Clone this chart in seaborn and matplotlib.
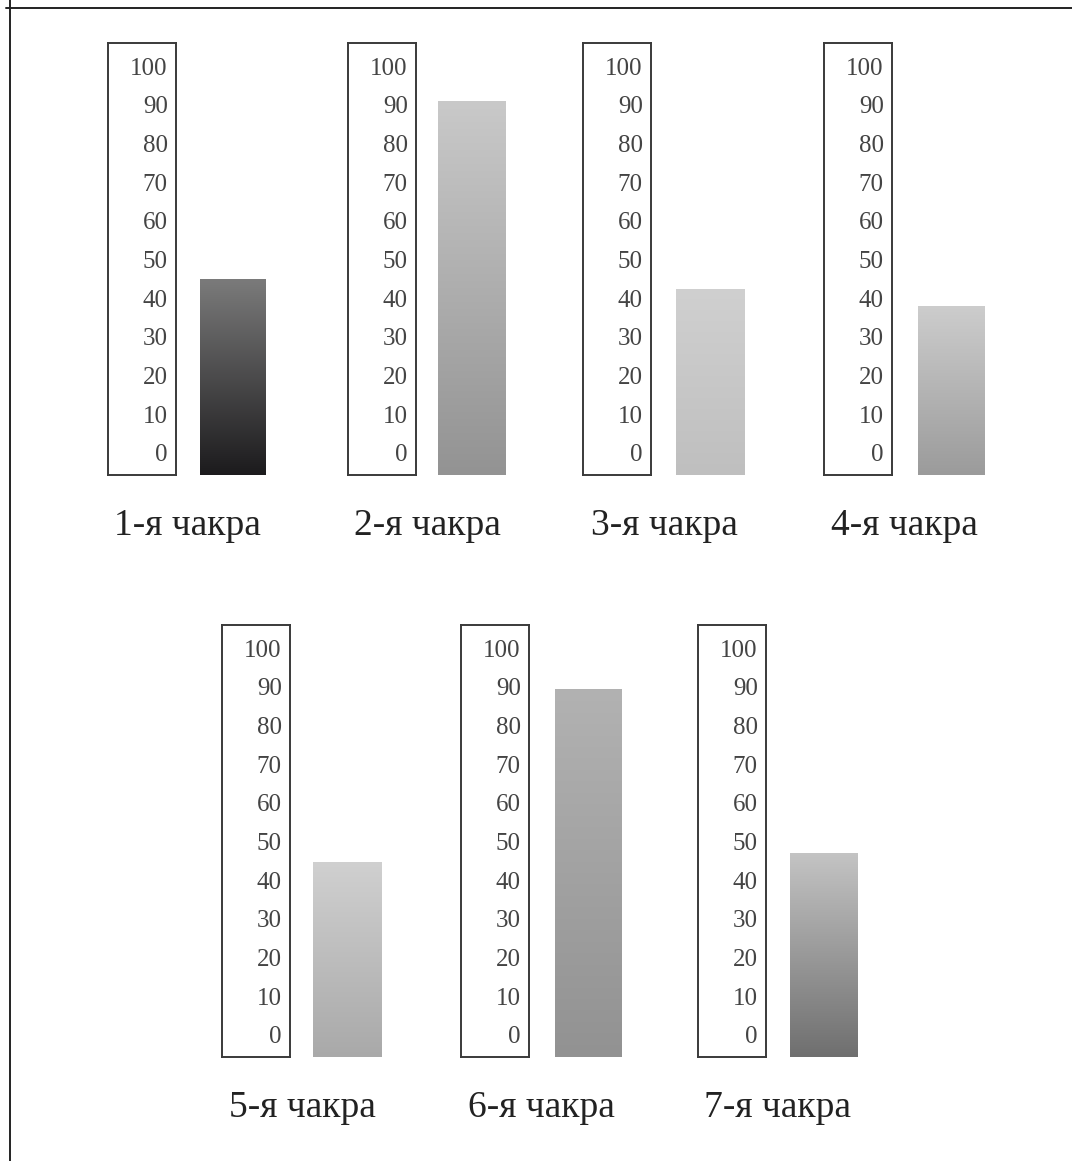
import numpy as np
import pandas as pd
import matplotlib
matplotlib.use("Agg")
import matplotlib.pyplot as plt
import seaborn as sns
from matplotlib.colors import LinearSegmentedColormap
from matplotlib.lines import Line2D

# data
chakras = ["1-я чакра", "2-я чакра", "3-я чакра", "4-я чакра",
           "5-я чакра", "6-я чакра", "7-я чакра"]
levels = [45, 91, 42.5, 38, 44.7, 89.4, 47.1]
scale_ticks = [0, 10, 20, 30, 40, 50, 60, 70, 80, 90, 100]
top_colors = ["#7b7b7b", "#c9c9c9", "#d0d0d0", "#cdcdcd", "#d0d0d0", "#b2b2b2", "#c4c4c4"]
bottom_colors = ["#1c1b1d", "#939393", "#bfbfbf", "#9b9b9b", "#a9a9a9", "#929292", "#6f6f6f"]

sns.set_theme(style="white")
plt.rcParams["font.family"] = ["Liberation Serif", "DejaVu Serif"]

W, H = 1072, 1161
fig = plt.figure(figsize=(W / 100, H / 100), dpi=100)

# pixel layout of each panel: box left, bar left, bar right, box top
layout = [(108, 200, 266, 43), (348, 438, 506, 43), (583, 676, 745, 43), (824, 918, 985, 43),
          (222, 313, 382, 625), (461, 555, 622, 625), (698, 790, 858, 625)]
box_w, box_h = 68, 432
ylim = (-5.7, 106)

for i, (name, val) in enumerate(zip(chakras, levels)):
    bx, gx0, gx1, top = layout[i]
    bottom = 1 - (top + box_h) / H

    # scale box with numbers inside
    box = fig.add_axes([bx / W, bottom, box_w / W, box_h / H])
    box.set_ylim(*ylim)
    box.set_xticks([])
    box.yaxis.tick_right()
    box.set_yticks(scale_ticks)
    box.tick_params(axis="y", direction="in", length=0, pad=-6,
                    labelsize=18, labelcolor="#444444")
    for lab in box.get_yticklabels():
        lab.set_horizontalalignment("right")
    for s in box.spines.values():
        s.set_visible(True)
        s.set_color("#3a3a3a")
        s.set_linewidth(1.4)

    # bar with vertical gradient
    ax = fig.add_axes([gx0 / W, bottom, (gx1 - gx0) / W, box_h / H])
    df = pd.DataFrame({"chakra": [name], "level": [val]})
    sns.barplot(data=df, x="chakra", y="level", ax=ax, width=1.0, color=bottom_colors[i])
    ax.set_ylim(*ylim)
    xl = ax.get_xlim()
    p = ax.patches[0]
    lo = ylim[0]
    p.set_y(lo)
    p.set_height(val - lo)
    p.set_facecolor("none")
    p.set_edgecolor("none")
    cmap = LinearSegmentedColormap.from_list("g%d" % i, [bottom_colors[i], top_colors[i]])
    grad = np.linspace(0, 1, 256).reshape(-1, 1)
    x0 = p.get_x()
    im = ax.imshow(grad, extent=[x0, x0 + p.get_width(), lo, val], origin="lower",
                   aspect="auto", cmap=cmap, interpolation="bicubic")
    im.set_clip_path(p)
    ax.set_xlim(xl)
    ax.set_ylim(*ylim)
    ax.axis("off")

    fig.text((bx + gx1) / 2 / W, 1 - (top + box_h + 51) / H, name,
             ha="center", va="center", fontsize=27, color="#222222")

# page frame lines
fig.add_artist(Line2D([6 / W, 1], [1 - 8 / H, 1 - 8 / H], transform=fig.transFigure,
                      color="#222222", lw=1.4))
fig.add_artist(Line2D([10 / W, 10 / W], [0, 1], transform=fig.transFigure,
                      color="#222222", lw=1.4))

fig.savefig("out.png", dpi=100, facecolor="white")
